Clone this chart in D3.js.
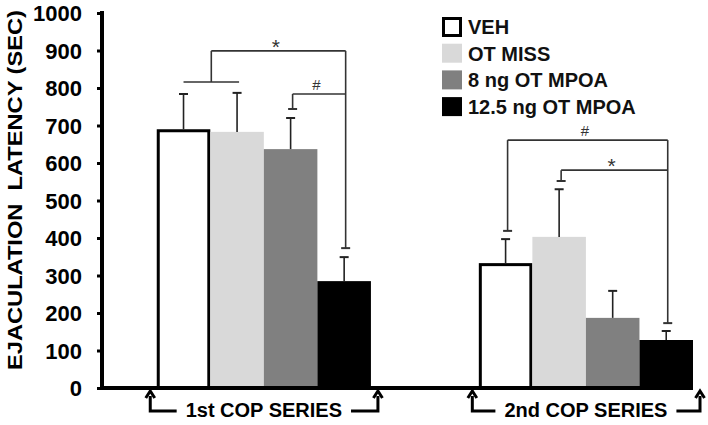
<!DOCTYPE html>
<html><head><meta charset="utf-8">
<script src="https://cdn.jsdelivr.net/npm/d3@7"></script>
<style>
html,body{margin:0;padding:0;background:#fff;}
text{font-family:"Liberation Sans",Arial,sans-serif;}
</style></head>
<body><svg id="c" width="708" height="425"></svg>
<script>
const categories = ["1st COP SERIES", "2nd COP SERIES"];
const series = ["VEH", "OT MISS", "8 ng OT MPOA", "12.5 ng OT MPOA"];
const colors = ["#ffffff", "#d9d9d9", "#808080", "#000000"];
const firstMeans = [690, 683, 637, 285];
const firstErrors = [94, 104, 83, 64];
const secondMeans = [333, 403, 187, 128];
const secondErrors = [64, 127, 72, 24];
const yTicks = [0, 100, 200, 300, 400, 500, 600, 700, 800, 900, 1000];
// significance brackets: group, from series (array = joined pair), to series, level, end values, label
const brackets = [
  {group: 0, from: [0, 1], to: 3, level: 899, join: 816, toEnd: 373, label: "*"},
  {group: 0, from: 2, to: 3, level: 784, fromEnd: 744, toEnd: null, label: "#"},
  {group: 1, from: 0, to: 3, level: 661, fromEnd: 419, toEnd: 173, label: "#"},
  {group: 1, from: 1, to: 3, level: 581, fromEnd: 552, toEnd: null, label: "*"}
];

const means = [firstMeans, secondMeans];
const errors = [firstErrors, secondErrors];

const svg = d3.select("#c");
const y = d3.scaleLinear().domain([0, 1000]).range([388, 13]);
const x0 = d3.scaleBand().domain(categories).range([102, 693])
  .paddingInner(0.335).paddingOuter(0.085).align(1);
const x1 = d3.scaleBand().domain(series).range([0, x0.bandwidth()]);
const font = '"Liberation Sans", Arial, sans-serif';

// bars
categories.forEach((cat, gi) => {
  const g = svg.append("g").attr("transform", `translate(${x0(cat)},0)`);
  series.forEach((s, si) => {
    const v = means[gi][si];
    const isVeh = si === 0;
    g.append("rect")
      .attr("x", x1(s) + (isVeh ? 1.5 : 0))
      .attr("y", y(v) + (isVeh ? 1.5 : 0))
      .attr("width", x1.bandwidth() - (isVeh ? 3 : 0))
      .attr("height", y(0) - y(v) - (isVeh ? 1.5 : 0))
      .attr("fill", colors[si])
      .attr("stroke", isVeh ? "#000" : "none")
      .attr("stroke-width", 3);
    // error bar (upper only)
    const cx = x1(s) + x1.bandwidth() / 2;
    const top = v + errors[gi][si];
    g.append("line").attr("x1", cx).attr("x2", cx).attr("y1", y(v)).attr("y2", y(top))
      .attr("stroke", "#222").attr("stroke-width", 1.6);
    g.append("line").attr("x1", cx - 4.5).attr("x2", cx + 4.5).attr("y1", y(top)).attr("y2", y(top))
      .attr("stroke", "#222").attr("stroke-width", 2);
  });
});

// brackets
const bc = "#333";
function cxOf(gi, si) { return x0(categories[gi]) + x1(series[si]) + x1.bandwidth() / 2; }
function cap(xc, v) {
  svg.append("line").attr("x1", xc - 4.5).attr("x2", xc + 4.5).attr("y1", y(v)).attr("y2", y(v))
    .attr("stroke", bc).attr("stroke-width", 2);
}
function seg(xa, ya, xb, yb) {
  svg.append("line").attr("x1", xa).attr("y1", ya).attr("x2", xb).attr("y2", yb)
    .attr("stroke", bc).attr("stroke-width", 1.6);
}
brackets.forEach(b => {
  const xt = cxOf(b.group, b.to);
  let xf;
  if (Array.isArray(b.from)) {
    const xa = cxOf(b.group, b.from[0]), xb = cxOf(b.group, b.from[1]) + 2;
    seg(xa, y(b.join), xb, y(b.join));
    xf = (xa + xb) / 2;
    seg(xf, y(b.join), xf, y(b.level));
  } else {
    xf = cxOf(b.group, b.from) + 2;
    seg(xf, y(b.level), xf, y(b.fromEnd));
    cap(xf, b.fromEnd);
  }
  seg(xf, y(b.level), xt + 1.5, y(b.level));
  if (b.toEnd !== null) {
    seg(xt + 1.5, y(b.level), xt + 1.5, y(b.toEnd));
    cap(xt + 1.5, b.toEnd);
  }
  const star = b.label === "*";
  svg.append("text").attr("x", (xf + xt) / 2 - 2).attr("y", y(b.level) + (star ? 3 : -4))
    .attr("text-anchor", "middle").attr("font-size", star ? 21 : 15).attr("fill", "#333")
    .style("font-family", font).text(b.label);
});

// y axis
const yAxis = d3.axisLeft(y).tickValues(yTicks).tickFormat(d3.format("d"))
  .tickSizeInner(5).tickSizeOuter(0).tickPadding(15);
const ya = svg.append("g").attr("transform", "translate(102,0)").call(yAxis);
ya.select(".domain").attr("stroke", "#000").attr("stroke-width", 4)
  .attr("d", `M0,${y(1000) - 2}V${y(0) + 2}`);
ya.selectAll(".tick line").attr("stroke", "#000").attr("stroke-width", 3);
ya.selectAll(".tick text").attr("font-size", 22).attr("font-weight", "bold").attr("fill", "#000")
  .style("font-family", font).attr("dy", "0.36em");

// baseline
svg.append("line").attr("x1", 100).attr("x2", x0(categories[1]) + x0.bandwidth())
  .attr("y1", y(0)).attr("y2", y(0)).attr("stroke", "#000").attr("stroke-width", 4);

// y label
svg.append("text").attr("transform", "translate(22,190) rotate(-90)")
  .attr("text-anchor", "middle").attr("font-size", 21).attr("font-weight", "bold")
  .attr("textLength", 360).attr("lengthAdjust", "spacingAndGlyphs")
  .style("font-family", font).style("white-space", "pre")
  .text("EJACULATION  LATENCY (SEC)");

// category labels with arrows
categories.forEach((cat, gi) => {
  const l = x0(cat) - 6.5, r = x0(cat) + x0.bandwidth() + 7;
  const mid = x0(cat) + x0.bandwidth() / 2;
  const t = svg.append("text").attr("x", mid).attr("y", 417).attr("text-anchor", "middle")
    .attr("font-size", 20).attr("font-weight", "bold").style("font-family", font).text(cat);
  const w = t.node().getComputedTextLength();
  const p = d3.path();
  p.moveTo(l, 396); p.lineTo(l, 411); p.lineTo(mid - w / 2 - 9, 411);
  p.moveTo(mid + w / 2 + 9, 411); p.lineTo(r, 411); p.lineTo(r, 396);
  svg.append("path").attr("d", p.toString()).attr("fill", "none").attr("stroke", "#000").attr("stroke-width", 3);
  [l, r].forEach(ax => {
    svg.append("path").attr("d", `M${ax - 4.5},${398}L${ax},${391}L${ax + 4.5},${398}`)
      .attr("fill", "none").attr("stroke", "#000").attr("stroke-width", 3);
  });
});

// legend
const lg = svg.append("g");
series.forEach((s, i) => {
  const yy = 17 + i * 26.7;
  lg.append("rect").attr("x", 442 + (i === 0 ? 1.5 : 0)).attr("y", yy + (i === 0 ? 1.5 : 0))
    .attr("width", i === 0 ? 17 : 20).attr("height", i === 0 ? 17 : 19)
    .attr("fill", colors[i]).attr("stroke", i === 0 ? "#000" : "none").attr("stroke-width", 3);
  lg.append("text").attr("x", 468).attr("y", yy + 17).attr("font-size", 20).attr("font-weight", "bold")
    .attr("fill", "#111").style("font-family", font).text(s);
});
</script></body></html>
